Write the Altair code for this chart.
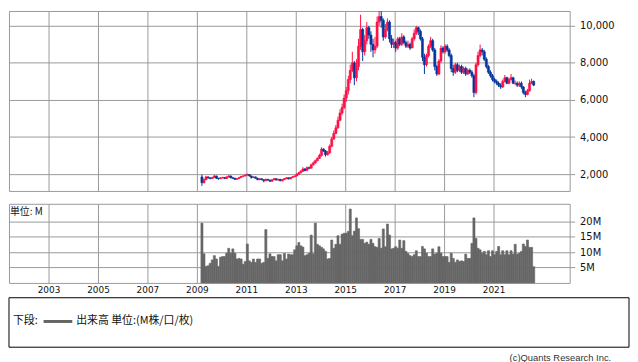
import altair as alt
import pandas as pd

# ---------------- data (monthly, Mar 2009 - Aug 2022) ----------------
start_month = "2009-03-01"
n_months = 162

open_ = [
    1850, 1540, 1700, 1850, 1800, 1760, 1820, 1900, 1780, 1750,
    1800, 1820, 1760, 1850, 1900, 1800, 1780, 1720, 1760, 1820, 1880, 1900,
    1950, 1980, 1900, 1820, 1850, 1780, 1700, 1750, 1700, 1640, 1720, 1680,
    1620, 1700, 1750, 1680, 1720, 1640, 1700, 1760, 1800, 1740, 1820, 1860,
    1900, 2000, 2080, 2150, 2280, 2200, 2350, 2320, 2500, 2600, 2720, 2850,
    3000, 3350, 3250, 3050, 3150, 3500, 3900, 4200, 4500, 4900, 5300, 5600,
    6100, 6500, 7100, 7600, 8000, 7200, 7800, 8900, 9800, 8600, 9200, 9900,
    9500, 9000, 8700, 8900, 10200, 10500, 10300, 9400, 9800, 10200, 9300, 9000,
    9100, 8800, 9300, 9000, 9400, 9100, 8900, 9000, 8800, 9300, 9600, 9900,
    9700, 9300, 8300, 7900, 8400, 8900, 9200, 8700, 7800, 7400, 8100, 8800,
    8600, 8900, 8700, 8400, 7700, 7500, 7900, 7600, 7800, 7500, 7700, 7400,
    7600, 7500, 7300, 6400, 7900, 8400, 8700, 8600, 8200, 7800, 7500, 7300,
    7100, 7000, 6900, 6800, 6700, 7000, 7200, 6900, 7100, 7200, 6900, 6900,
    6800, 6900, 6700, 6400, 6300, 6500, 6900, 7000,
]
high = [
    1980, 1760, 1900, 1880, 1820, 1860, 1960, 1920, 1800, 1830,
    1860, 1840, 1880, 1950, 1920, 1830, 1800, 1790, 1850, 1900, 1940, 1990,
    2030, 2000, 1920, 1880, 1870, 1800, 1780, 1770, 1720, 1750, 1740, 1700,
    1730, 1790, 1770, 1750, 1740, 1720, 1790, 1830, 1820, 1850, 1890, 1940,
    2050, 2120, 2220, 2380, 2320, 2420, 2400, 2560, 2680, 2780, 2900, 3100,
    3450, 3400, 3300, 3250, 3600, 4000, 4350, 4650, 5100, 5500, 5800, 6300,
    6700, 7300, 7900, 8600, 8100, 8200, 9300, 10600, 9900, 9500, 10200, 10000,
    9700, 9300, 9400, 10500, 10900, 10800, 10400, 10100, 10400, 10300, 9500, 9300,
    9200, 9400, 9400, 9600, 9500, 9200, 9200, 9100, 9400, 9800, 10000, 9950,
    9800, 9400, 8500, 8500, 9000, 9400, 9300, 8800, 7900, 8200, 8950, 8900,
    9000, 9000, 8800, 8500, 7900, 8000, 8000, 7900, 7900, 7800, 7800, 7700,
    7700, 7600, 7400, 8000, 8600, 8990, 8800, 8700, 8300, 7900, 7600, 7400,
    7200, 7100, 7000, 6900, 7100, 7350, 7250, 7200, 7400, 7250, 7050, 7000,
    7000, 7000, 6750, 6500, 6600, 7100, 7150, 7050,
]
low = [
    1370, 1500, 1680, 1760, 1720, 1740, 1800, 1740, 1700, 1730,
    1770, 1730, 1740, 1820, 1780, 1740, 1690, 1700, 1740, 1800, 1850, 1880,
    1920, 1880, 1760, 1790, 1760, 1680, 1680, 1680, 1560, 1620, 1650, 1580,
    1600, 1680, 1660, 1650, 1620, 1610, 1680, 1740, 1720, 1720, 1800, 1840,
    1880, 1960, 2040, 2120, 2150, 2180, 2260, 2300, 2460, 2560, 2700, 2820,
    2950, 3200, 2950, 3000, 3100, 3450, 3850, 4150, 4450, 4850, 5200, 5500,
    5900, 6300, 6900, 7500, 6800, 7000, 7600, 8700, 8100, 8400, 9000, 9300,
    8600, 8300, 8500, 8800, 10000, 9900, 9200, 9300, 9700, 9100, 8800, 8800,
    8600, 8700, 8900, 8900, 9000, 8800, 8800, 8700, 8800, 9200, 9500, 9500,
    9200, 8100, 7400, 7800, 8300, 8800, 8600, 7600, 7300, 7350, 8000, 8500,
    8500, 8600, 8300, 7500, 7300, 7400, 7500, 7500, 7400, 7400, 7300, 7350,
    7400, 7200, 6150, 6300, 7800, 8300, 8400, 8100, 7700, 7400, 7200, 7000,
    6900, 6800, 6700, 6600, 6650, 6950, 6850, 6850, 7050, 6850, 6800, 6700,
    6700, 6600, 6300, 6150, 6250, 6450, 6850, 6750,
]
close = [
    1540, 1700, 1850, 1800, 1760, 1820, 1900, 1780, 1750, 1800,
    1820, 1760, 1850, 1900, 1800, 1780, 1720, 1760, 1820, 1880, 1900, 1950,
    1980, 1900, 1820, 1850, 1780, 1700, 1750, 1700, 1640, 1720, 1680, 1620,
    1700, 1750, 1680, 1720, 1640, 1700, 1760, 1800, 1740, 1820, 1860, 1900,
    2000, 2080, 2150, 2280, 2200, 2350, 2320, 2500, 2600, 2720, 2850, 3000,
    3350, 3250, 3050, 3150, 3500, 3900, 4200, 4500, 4900, 5300, 5600, 6100,
    6500, 7100, 7600, 8000, 7200, 7800, 8900, 9800, 8600, 9200, 9900, 9500,
    9000, 8700, 8900, 10200, 10500, 10300, 9400, 9800, 10200, 9300, 9000, 9100,
    8800, 9300, 9000, 9400, 9100, 8900, 9000, 8800, 9300, 9600, 9900, 9700,
    9300, 8300, 7900, 8400, 8900, 9200, 8700, 7800, 7400, 8100, 8800, 8600,
    8900, 8700, 8400, 7700, 7500, 7900, 7600, 7800, 7500, 7700, 7400, 7600,
    7500, 7300, 6400, 7900, 8400, 8700, 8600, 8200, 7800, 7500, 7300, 7100,
    7000, 6900, 6800, 6700, 7000, 7200, 6900, 7100, 7200, 6900, 6900, 6800,
    6900, 6700, 6400, 6300, 6500, 6900, 7000, 6800,
]
# volume in millions
volume = [
    19.5, 9.5, 5.4, 5.6, 6.4, 7.5, 8.9, 7.8, 5.4, 8.4,
    8.6, 8.6, 9.7, 11.3, 9.7, 11.1, 9.7, 7.8, 8.0, 7.8,
    6.1, 7.0, 12.7, 7.2, 6.7, 7.8, 6.7, 7.8, 7.8, 6.4,
    6.7, 17.4, 8.0, 9.5, 8.6, 8.6, 7.2, 9.2, 9.2, 7.2,
    9.6, 7.8, 9.4, 9.2, 9.2, 10.8, 12.1, 13.2, 12.1, 11.7,
    8.9, 9.2, 9.7, 15.6, 9.5, 19.5, 12.6, 12.1, 11.6, 11.1,
    10.3, 7.8, 8.0, 14.0, 11.3, 12.6, 15.4, 12.6, 15.9, 16.2,
    16.2, 16.8, 24.1, 15.4, 16.9, 21.2, 17.7, 14.2, 14.2, 12.9,
    13.3, 12.6,
    14.2, 12.9, 11.8, 11.6, 14.5, 11.3, 17.6, 11.8, 19.2, 15.6,
    11.1, 11.3, 11.8, 11.3, 14.0, 11.3, 13.8, 10.3, 9.6, 8.9,
    8.6, 9.2, 10.5, 8.6, 8.6, 11.9, 11.1, 9.7,
    8.6, 8.6, 11.1, 9.4, 9.7, 11.8, 9.7, 8.6, 8.6, 8.6,
    6.7, 9.7, 8.0, 6.7, 7.5, 7.0, 7.2, 7.0, 9.4, 8.0,
    8.0, 12.9, 21.2, 14.5, 11.3, 10.8, 9.7, 10.3, 9.2, 10.5,
    8.6, 10.5, 9.2, 10.3, 11.9, 9.2, 10.5, 9.2, 10.5,
    9.2, 10.5, 9.4, 12.6, 9.4, 9.7, 10.3, 12.7, 11.9, 14.0,
    11.6, 11.6, 5.3,
]

year_ticks = [2003, 2005, 2007, 2009, 2011, 2013, 2015, 2017, 2019, 2021]
price_ticks = [2000, 4000, 6000, 8000, 10000]
volume_ticks = [5, 10, 15, 20]

# ---------------- build table ----------------
starts = pd.date_range(start_month, periods=n_months, freq="MS")
ends = starts + pd.offsets.MonthBegin(1)
mids = starts + pd.Timedelta(days=15)
df = pd.DataFrame({
    "date": [d.strftime("%Y/%m/%d") for d in starts],
    "end": [d.strftime("%Y/%m/%d") for d in ends],
    "mid": [d.strftime("%Y/%m/%d") for d in mids],
    "open": open_, "high": high, "low": low, "close": close,
    "volume": volume,
})
df["dir"] = ["up" if c >= o else "down" for o, c in zip(open_, close)]

RED = "#FF0F45"
BLUE = "#03359C"
GRID = "#9A9A9A"
TXT = "#111111"
VOL = "#666666"

xdomain = [alt.DateTime(year=2001, month=5, date=27), alt.DateTime(year=2024, month=1, date=30)]
xvals = [alt.DateTime(year=y, month=1, date=1) for y in year_ticks]
xscale = alt.Scale(domain=xdomain, nice=False)

cscale = alt.Scale(domain=["up", "down"], range=[RED, BLUE])
color = alt.Color("dir:N", scale=cscale, legend=None)
stroke = alt.Stroke("dir:N", scale=cscale, legend=None)

top_xaxis = alt.Axis(values=xvals, grid=True, gridColor=GRID, labels=False, ticks=False,
                     domain=False, title=None)
price_axis = alt.Axis(orient="right", values=price_ticks, format=",.0f", grid=True,
                      gridColor=GRID, tickColor=GRID, tickSize=5, labelPadding=5,
                      domain=False, title=None, labelFontSize=10, labelColor=TXT)
yscale = alt.Scale(domain=[1093, 10800], nice=False, zero=False)

base = alt.Chart(df)
wicks = base.mark_rule(clip=True, strokeWidth=1).encode(
    x=alt.X("mid:T", scale=xscale, axis=top_xaxis),
    y=alt.Y("low:Q", scale=yscale, axis=price_axis),
    y2="high:Q",
    color=color,
)
bodies = base.mark_bar(clip=True, strokeWidth=0.6).encode(
    x=alt.X("date:T", scale=xscale, axis=top_xaxis),
    x2="end:T",
    y=alt.Y("open:Q", scale=yscale, axis=price_axis),
    y2="close:Q",
    color=color,
    stroke=stroke,
)
top = alt.layer(wicks, bodies).properties(width=567, height=182)

# ---------------- volume panel ----------------
vol_xaxis = alt.Axis(values=xvals, format="%Y", grid=True, gridColor=GRID, ticks=False,
                     domain=False, title=None, labelPadding=3, labelFontSize=9,
                     labelColor=TXT)
vol_yaxis = alt.Axis(orient="right", values=volume_ticks, labelExpr="datum.value + 'M'",
                     grid=True, gridColor=GRID, tickColor=GRID, tickSize=5, labelPadding=5,
                     domain=False, title=None, labelFontSize=10, labelColor=TXT)
vbars = base.mark_bar(color=VOL, stroke=VOL, strokeWidth=0.6).encode(
    x=alt.X("date:T", scale=xscale, axis=vol_xaxis),
    x2="end:T",
    y=alt.Y("volume:Q", scale=alt.Scale(domain=[0, 25.8], nice=False), axis=vol_yaxis),
    y2=alt.datum(0),
)

one = pd.DataFrame({"k": [0]})
deco = alt.Chart(one)
unit_label = deco.mark_text(align="left", baseline="middle", fontSize=10,
                            font="Noto Sans CJK JP", color=TXT).encode(
    x=alt.value(1), y=alt.value(8), text=alt.value("単位: M"))
legend_box = deco.mark_rect(fill="white", stroke="#000", strokeWidth=1).encode(
    x=alt.value(0), x2=alt.value(627), y=alt.value(95), y2=alt.value(145))
legend_line = deco.mark_rule(stroke=VOL, strokeWidth=3).encode(
    x=alt.value(35), x2=alt.value(64), y=alt.value(119))
legend_t1 = deco.mark_text(align="left", baseline="middle", fontSize=11,
                           font="Noto Sans CJK JP", color=TXT).encode(
    x=alt.value(4), y=alt.value(119), text=alt.value("下段:"))
legend_t2 = deco.mark_text(align="left", baseline="middle", fontSize=11,
                           font="Noto Sans CJK JP", color=TXT).encode(
    x=alt.value(68), y=alt.value(119), text=alt.value("出来高 単位:(M株/口/枚)"))
copyright_t = deco.mark_text(align="right", baseline="middle", fontSize=9.5,
                             font="Liberation Sans", color="#333").encode(
    x=alt.value(609), y=alt.value(156), text=alt.value("(c)Quants Research Inc."))

vol = alt.layer(vbars, unit_label, legend_box, legend_line, legend_t1, legend_t2,
                copyright_t).properties(width=567, height=80)

chart = alt.vconcat(top, vol, spacing=11).properties(
    padding={"left": 0, "top": 0, "right": 0, "bottom": 0}
).configure(font="DejaVu Sans").configure_view(stroke=GRID, strokeWidth=1)

chart.save("out.html", embed_options={"renderer": "svg", "actions": False})
